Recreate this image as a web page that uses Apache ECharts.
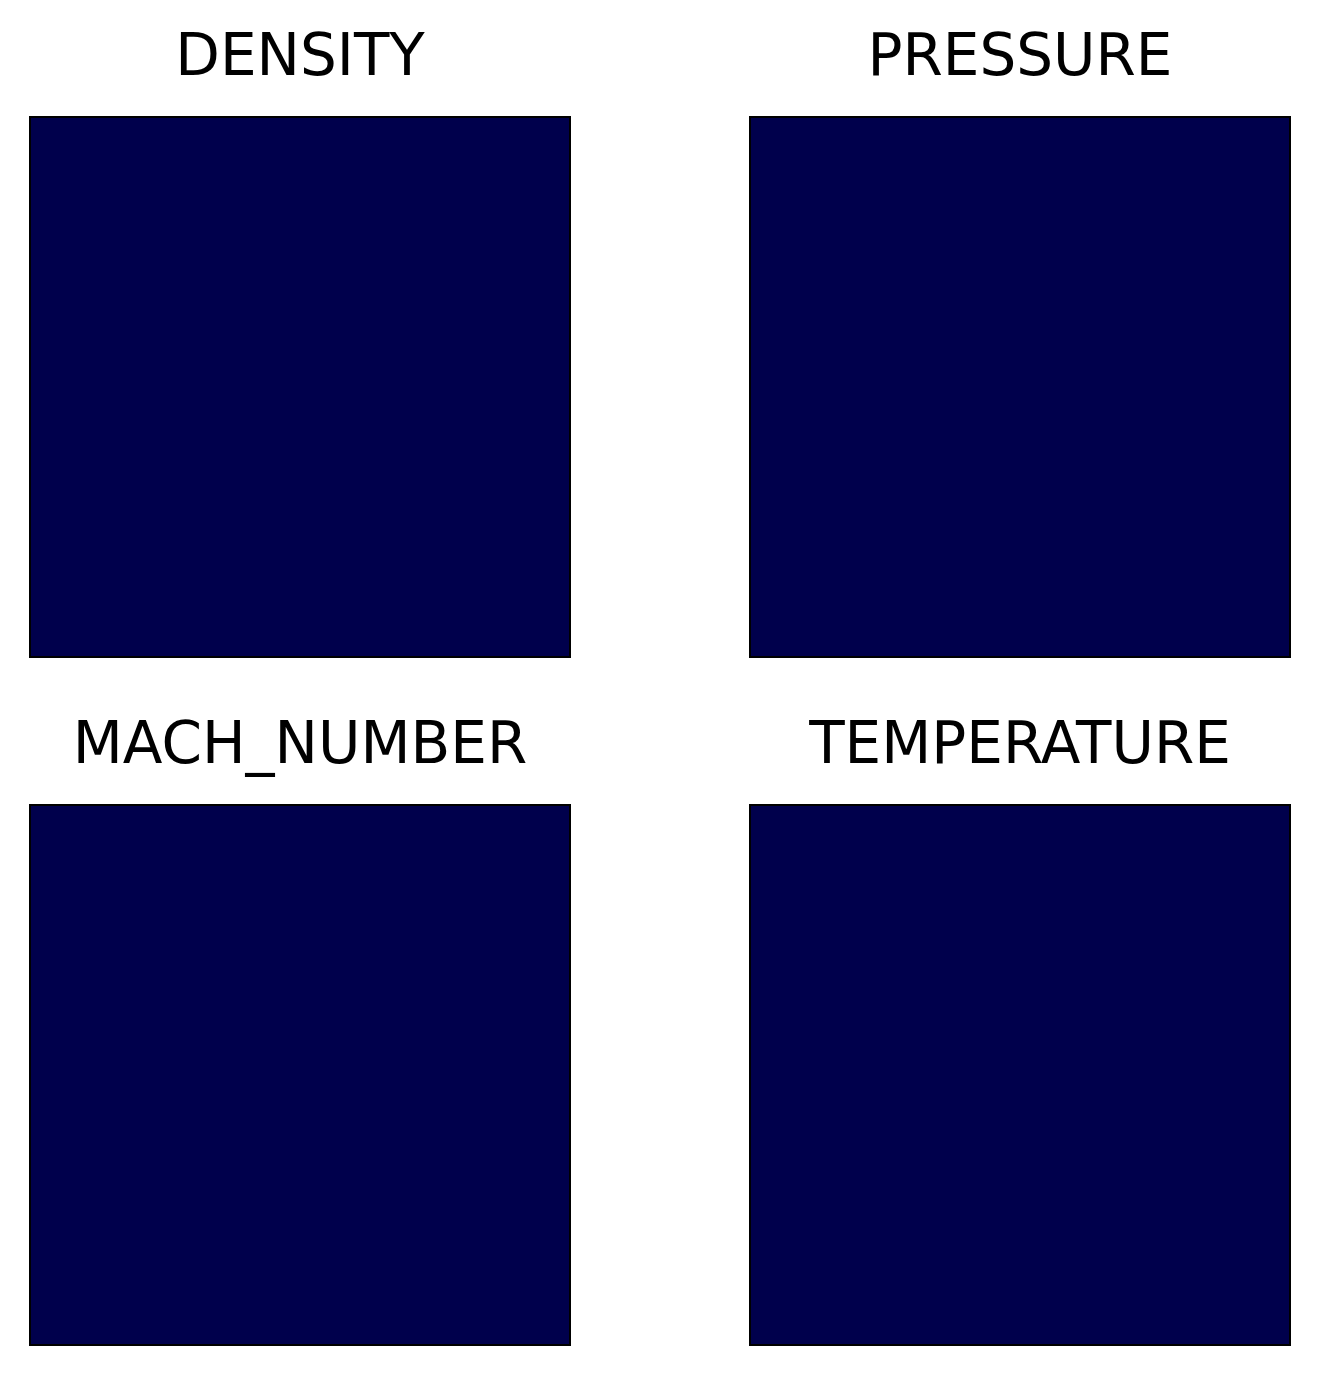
<!DOCTYPE html>
<html>
<head>
<meta charset="utf-8">
<script src="https://cdn.jsdelivr.net/npm/echarts@6/dist/echarts.min.js"></script>
<style>html,body{margin:0;padding:0;background:#fff;}#c{width:1318px;height:1374px;}</style>
</head>
<body>
<div id="c"></div>
<script>
const titles = ['DENSITY', 'PRESSURE', 'MACH_NUMBER', 'TEMPERATURE'];
const xCats = ['0', '1', '2'];
const yCats = ['0', '1', '2'];
const density = [[0,0,0],[0,0,0],[0,0,0]];
const pressure = [[0,0,0],[0,0,0],[0,0,0]];
const machNumber = [[0,0,0],[0,0,0],[0,0,0]];
const temperature = [[0,0,0],[0,0,0],[0,0,0]];
const fields = [density, pressure, machNumber, temperature];

const boxes = [
  {left: 30, top: 117}, {left: 750, top: 117},
  {left: 30, top: 805}, {left: 750, top: 805}
];
const size = 540;

const chart = echarts.init(document.getElementById('c'));
const grid = [], xAxis = [], yAxis = [], series = [], title = [];
fields.forEach((f, i) => {
  grid.push({left: boxes[i].left, top: boxes[i].top, width: size, height: size,
    show: true, borderColor: '#000', borderWidth: 2, backgroundColor: 'transparent', z: 5});
  xAxis.push({type: 'category', data: xCats, gridIndex: i, show: false});
  yAxis.push({type: 'category', data: yCats, gridIndex: i, show: false});
  const d = [];
  f.forEach((row, r) => row.forEach((v, c) => d.push([c, r, v])));
  series.push({type: 'heatmap', xAxisIndex: i, yAxisIndex: i, data: d,
    itemStyle: {borderWidth: 0}, emphasis: {disabled: true}, z: 1});
  title.push({text: titles[i], left: boxes[i].left + size / 2, textAlign: 'center',
    top: boxes[i].top - 86, padding: 0,
    textStyle: {fontFamily: 'DejaVu Sans', fontWeight: 'normal', fontSize: 58, color: '#000'}});
});

chart.setOption({
  animation: false,
  title: title,
  grid: grid, xAxis: xAxis, yAxis: yAxis,
  visualMap: {show: false, min: 0, max: 1, dimension: 2, seriesIndex: [0,1,2,3],
    inRange: {color: ['#00004c', '#0000ff', '#ffffff', '#ff0000', '#800000']}},
  series: series
});
</script>
</body>
</html>
